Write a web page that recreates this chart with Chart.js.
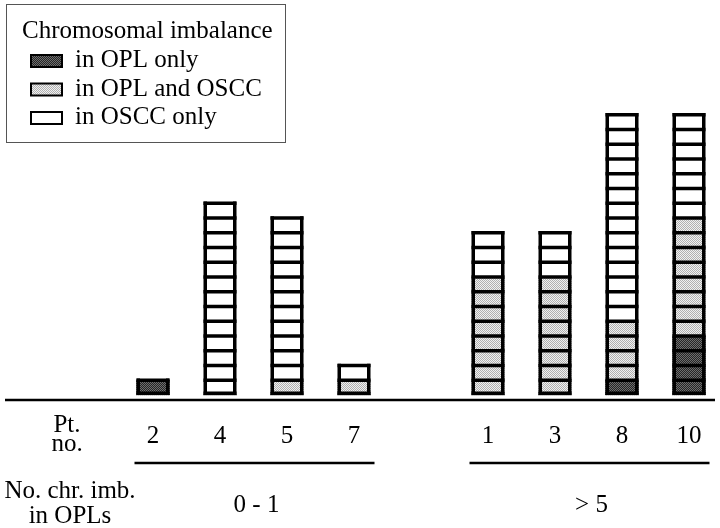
<!DOCTYPE html>
<html>
<head>
<meta charset="utf-8">
<script src="https://cdn.jsdelivr.net/npm/chart.js@4"></script>
<style>
  body { margin: 0; background: #fff; }
  canvas { display: block; }
</style>
</head>
<body>
<canvas id="chart" width="720" height="528"></canvas>
<script>
// patient numbers, '' is the gap between the two groups
const patients = ['2', '4', '5', '7', '', '1', '3', '8', '10'];
const oplOnly  = [1, 0, 0, 0, null, 0, 0, 1, 4];
const oplOscc  = [0, 0, 1, 1, null, 8, 8, 4, 8];
const osccOnly = [0, 13, 11, 1, null, 3, 3, 14, 7];
const seriesNames = ['in OPL only', 'in OPL and OSCC', 'in OSCC only'];
const groups = [
  { label: '0 - 1', from: 0, to: 3 },
  { label: '> 5', from: 5, to: 8 }
];

const FONT = '"Liberation Serif", "DejaVu Serif", serif';

function stipple(a, b) {
  const c = document.createElement('canvas');
  c.width = 2; c.height = 2;
  const g = c.getContext('2d');
  g.fillStyle = a; g.fillRect(0, 0, 2, 2);
  g.fillStyle = b; g.fillRect(0, 0, 1, 1); g.fillRect(1, 1, 1, 1);
  return g.createPattern(c, 'repeat');
}

const darkFill = stipple('#262626', '#6e6e6e');
const lightFill = stipple('#f0f0f0', '#b0b0b0');
const fills = [darkFill, lightFill, '#ffffff'];

// outlines of every unit box, baseline, labels and legend
const boxPlugin = {
  id: 'boxes',
  afterDatasetsDraw(chart) {
    const ctx = chart.ctx;
    const x = chart.scales.x, y = chart.scales.y;
    const meta = chart.getDatasetMeta(0);
    const lw = 3.5;
    ctx.save();
    ctx.strokeStyle = '#000';
    ctx.lineWidth = lw;
    patients.forEach((p, i) => {
      if (!p) return;
      const total = (oplOnly[i] || 0) + (oplOscc[i] || 0) + (osccOnly[i] || 0);
      const bar = meta.data[i];
      const w = bar.width;
      const left = bar.x - w / 2 + lw / 2, right = bar.x + w / 2 - lw / 2;
      for (let k = 0; k <= total; k++) {
        const yy = y.getPixelForValue(k) + (k === 0 ? -lw / 2 : 0);
        ctx.beginPath();
        ctx.moveTo(left - lw / 2, yy);
        ctx.lineTo(right + lw / 2, yy);
        ctx.stroke();
      }
      ctx.beginPath();
      ctx.moveTo(left, y.getPixelForValue(0));
      ctx.lineTo(left, y.getPixelForValue(total) - lw / 2);
      ctx.moveTo(right, y.getPixelForValue(0));
      ctx.lineTo(right, y.getPixelForValue(total) - lw / 2);
      ctx.stroke();
    });

    // baseline
    ctx.lineWidth = 2.5;
    ctx.beginPath();
    ctx.moveTo(5, 400);
    ctx.lineTo(715, 400);
    ctx.stroke();

    // patient numbers
    ctx.fillStyle = '#000';
    ctx.font = '25px ' + FONT;
    ctx.textAlign = 'center';
    ctx.textBaseline = 'alphabetic';
    patients.forEach((p, i) => {
      if (p) ctx.fillText(p, x.getPixelForValue(i), 443);
    });
    ctx.fillText('Pt.', 67, 432);
    ctx.fillText('no.', 67, 451);
    ctx.fillText('No. chr. imb.', 70, 498);
    ctx.fillText('in OPLs', 70, 523);

    // group underlines and labels
    const half = meta.data[0].width / 2;
    groups.forEach(g => {
      const a = x.getPixelForValue(g.from) - half - 2;
      const b = x.getPixelForValue(g.to) + half + 4;
      ctx.lineWidth = 2.5;
      ctx.beginPath();
      ctx.moveTo(a, 463);
      ctx.lineTo(b, 463);
      ctx.stroke();
      ctx.fillText(g.label, (a + b) / 2 + 2, 512);
    });

    // legend
    ctx.lineWidth = 1;
    ctx.strokeStyle = '#555';
    ctx.strokeRect(6.5, 4.5, 279, 138);
    ctx.textAlign = 'left';
    ctx.fillText('Chromosomal imbalance', 22, 38);
    chart.data.datasets.forEach((ds, i) => {
      const yy = 55 + i * 28.5;
      ctx.fillStyle = ds.backgroundColor;
      ctx.fillRect(31, yy, 31, 12);
      ctx.strokeStyle = '#000';
      ctx.lineWidth = 2;
      ctx.strokeRect(31, yy, 31, 12);
      ctx.fillStyle = '#000';
      ctx.fillText(ds.label, 75, yy + 12);
    });
    ctx.restore();
  }
};

new Chart(document.getElementById('chart'), {
  type: 'bar',
  data: {
    labels: patients,
    datasets: [oplOnly, oplOscc, osccOnly].map((d, i) => ({
      label: seriesNames[i],
      data: d,
      backgroundColor: fills[i],
      borderWidth: 0,
      barThickness: 33,
      clip: false
    }))
  },
  options: {
    responsive: false,
    animation: false,
    layout: { padding: { left: 153, right: 31, top: 100, bottom: 133 } },
    plugins: { legend: { display: false }, tooltip: { enabled: false } },
    scales: {
      x: { display: false, stacked: true, offset: false },
      y: { display: false, stacked: true, min: 0, max: 20 }
    }
  },
  plugins: [boxPlugin]
});
</script>
</body>
</html>
